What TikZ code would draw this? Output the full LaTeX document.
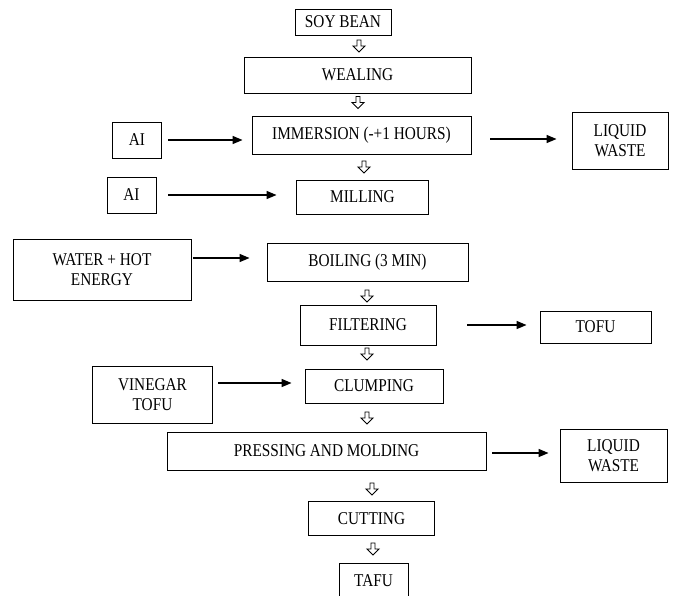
\documentclass[tikz,border=0pt]{standalone}
\usepackage{fontspec}
\setmainfont[FakeStretch=0.85]{Liberation Serif}
\usetikzlibrary{arrows.meta}
\begin{document}
\begin{tikzpicture}[x=1pt,y=-1pt,
  box/.style={draw=black, line width=0.9pt, align=center, inner sep=0pt,
    font=\fontsize{18}{20}\selectfont},
  arr/.style={line width=1.4pt, -{Triangle[length=10pt,width=8pt]}},
  hollowdown/.pic={\draw[line width=0.9pt, fill=white] (-2,-6) -- (2,-6) -- (2,0) -- (6,0) -- (0,6) -- (-6,0) -- (-2,0) -- cycle;}]
\useasboundingbox (0,0) rectangle (687,595);

\node[box, minimum width=96, minimum height=26] (soy) at (343,22) {SOY BEAN};
\node[box, minimum width=227, minimum height=36] (weal) at (357.5,75) {WEALING};
\node[box, minimum width=219, minimum height=38] (imm) at (361.5,135) {IMMERSION (-+1 HOURS)};
\node[box, minimum width=49, minimum height=36] (ai1) at (137,140) {AI};
\node[box, minimum width=96, minimum height=57] (liq1) at (620,140.5) {LIQUID\\WASTE};
\node[box, minimum width=49, minimum height=36] (ai2) at (131.5,195) {AI};
\node[box, minimum width=132, minimum height=34] (mill) at (362.5,197) {MILLING};
\node[box, minimum width=178, minimum height=61] (water) at (102,269.5) {WATER + HOT\\ENERGY};
\node[box, minimum width=201, minimum height=38] (boil) at (367.5,262) {BOILING (3 MIN)};
\node[box, minimum width=136, minimum height=40] (filt) at (368,325) {FILTERING};
\node[box, minimum width=111, minimum height=32] (tofu) at (595.5,327) {TOFU};
\node[box, minimum width=120, minimum height=57] (vin) at (152.5,395) {VINEGAR\\TOFU};
\node[box, minimum width=138, minimum height=34] (clump) at (374,386) {CLUMPING};
\node[box, minimum width=319, minimum height=38] (press) at (326.5,451) {PRESSING AND MOLDING};
\node[box, minimum width=107, minimum height=53] (liq2) at (613.5,455.5) {LIQUID\\WASTE};
\node[box, minimum width=126, minimum height=34] (cut) at (371.5,518.5) {CUTTING};
\node[box, minimum width=69, minimum height=36] (tafu) at (373.5,581) {TAFU};

\draw[arr] ([xshift=6.5pt]ai1.east) -- ([xshift=-9pt]ai1.east -| imm.west);
\draw[arr] ([xshift=19pt,yshift=-4pt]imm.east) -- ([xshift=-15pt,yshift=-4pt]imm.east -| liq1.west);
\draw[arr] ([xshift=12pt]ai2.east) -- ([xshift=-19.5pt]ai2.east -| mill.west);
\draw[arr] ([xshift=2pt,yshift=11.5pt]water.east) -- ([xshift=-17pt,yshift=11.5pt]water.east -| boil.west);
\draw[arr] ([xshift=31pt]filt.east) -- ([xshift=-13pt]filt.east -| tofu.west);
\draw[arr] ([xshift=5.5pt,yshift=12pt]vin.east) -- ([xshift=-13pt,yshift=12pt]vin.east -| clump.west);
\draw[arr] ([xshift=6pt,yshift=-2pt]press.east) -- ([xshift=-11pt,yshift=-2pt]press.east -| liq2.west);

\path (359,46) pic {hollowdown};
\path (358,102.5) pic {hollowdown};
\path (364,167) pic {hollowdown};
\path (367,296) pic {hollowdown};
\path (367,354) pic {hollowdown};
\path (367,418) pic {hollowdown};
\path (372,489) pic {hollowdown};
\path (373,549) pic {hollowdown};
\end{tikzpicture}
\end{document}
